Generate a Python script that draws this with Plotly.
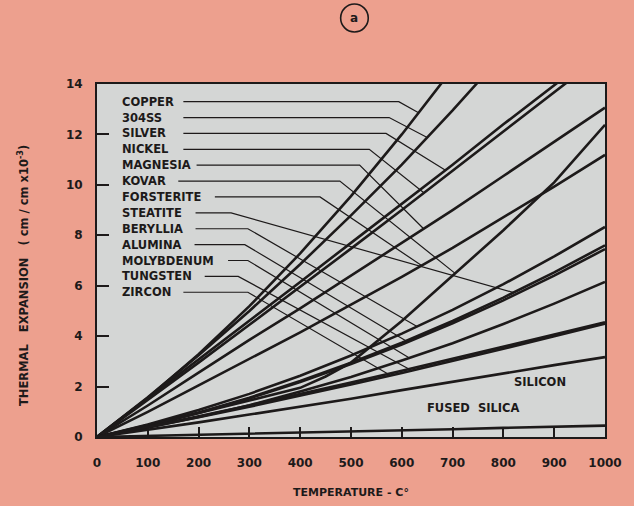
import plotly.graph_objects as go
import numpy as np

# ---------------- data ----------------
temps = [0, 100, 200, 300, 400, 500, 600, 700, 800, 900, 1000]
kovar_temps = [0, 100, 200, 300, 400, 450, 500, 600, 700, 800, 900, 1000]

copper     = [0, 1.55, 3.28, 5.19, 7.28, 9.55, 12.0, 14.6, 17.4, 20.3, 23.3]
ss304      = [0, 1.58, 3.24, 5.00, 6.85, 8.79, 10.8, 12.95, 15.2, 17.5, 19.9]
silver     = [0, 1.53, 3.06, 4.60, 6.15, 7.70, 9.25, 10.8, 12.4, 13.95, 15.5]
nickel     = [0, 1.47, 2.95, 4.45, 5.95, 7.47, 9.00, 10.54, 12.09, 13.65, 15.23]
magnesia   = [0, 1.25, 2.55, 3.85, 5.10, 6.40, 7.70, 9.00, 10.35, 11.7, 13.06]
kovar      = [0, 0.47, 0.95, 1.45, 1.95, 2.40, 2.95, 4.60, 6.40, 8.20, 10.1, 12.38]
forsterite = [0, 1.00, 2.05, 3.10, 4.15, 5.25, 6.35, 7.50, 8.70, 9.93, 11.19]
steatite   = [0, 0.45, 0.97, 1.56, 2.22, 2.95, 3.74, 4.60, 5.53, 6.53, 7.60]
beryllia   = [0, 0.50, 1.07, 1.71, 2.43, 3.23, 4.10, 5.04, 6.06, 7.16, 8.33]
alumina    = [0, 0.44, 0.95, 1.53, 2.18, 2.89, 3.67, 4.51, 5.42, 6.40, 7.45]
molybdenum = [0, 0.37, 0.79, 1.26, 1.80, 2.38, 3.03, 3.72, 4.48, 5.29, 6.15]
tungsten   = [0, 0.40, 0.82, 1.25, 1.70, 2.16, 2.63, 3.10, 3.58, 4.06, 4.55]
zircon     = [0, 0.38, 0.78, 1.20, 1.63, 2.08, 2.54, 3.01, 3.50, 4.00, 4.50]
silicon    = [0, 0.28, 0.58, 0.89, 1.20, 1.52, 1.86, 2.20, 2.53, 2.85, 3.17]
fused_silica = [0, 0.04, 0.09, 0.13, 0.18, 0.22, 0.27, 0.31, 0.36, 0.40, 0.45]

labels = ["COPPER", "304SS", "SILVER", "NICKEL", "MAGNESIA", "KOVAR", "FORSTERITE",
          "STEATITE", "BERYLLIA", "ALUMINA", "MOLYBDENUM", "TUNGSTEN", "ZIRCON"]
# leader lines: start (after text), bend, and end temperature on the curve
leader_start = [170, 170, 170, 170, 196, 160, 232, 194, 194, 192, 258, 212, 170]
leader_bend  = [594, 575, 569, 536, 517, 478, 439, 264, 297, 291, 297, 278, 297]
leader_end   = [633, 650, 686, 644, 643, 705, 639, 820, 630, 612, 615, 614, 578]

x_ticks = [0, 100, 200, 300, 400, 500, 600, 700, 800, 900, 1000]
y_ticks = [0, 2, 4, 6, 8, 10, 12, 14]

series = {
    "COPPER": (temps, copper), "304SS": (temps, ss304), "SILVER": (temps, silver),
    "NICKEL": (temps, nickel), "MAGNESIA": (temps, magnesia), "KOVAR": (kovar_temps, kovar),
    "FORSTERITE": (temps, forsterite), "STEATITE": (temps, steatite),
    "BERYLLIA": (temps, beryllia), "ALUMINA": (temps, alumina),
    "MOLYBDENUM": (temps, molybdenum), "TUNGSTEN": (temps, tungsten),
    "ZIRCON": (temps, zircon), "SILICON": (temps, silicon), "FUSED SILICA": (temps, fused_silica),
}

# ---------------- layout constants ----------------
W, H = 634, 506
L, R, T, B = 97, 22, 84, 69
PAPER = "#EDA08E"
PLOT = "#D4D6D5"
INK = "#1d1a1a"
FONT = "DejaVu Sans"

def px2paper(px, py):
    return (px - L) / (W - L - R), (H - B - py) / (H - T - B)

fig = go.Figure()

for name, (xs, ys) in series.items():
    fig.add_trace(go.Scatter(x=xs, y=ys, mode="lines", name=name,
                             line=dict(color=INK, width=2.6), hoverinfo="name",
                             showlegend=False))

# label texts and leader lines
label_top = 13.3
label_step = 0.63
for i, name in enumerate(labels):
    ly = label_top - i * label_step
    xs, ys = series[name]
    ey = float(np.interp(leader_end[i], xs, ys))
    fig.add_trace(go.Scatter(
        x=[leader_start[i], leader_bend[i], leader_end[i]], y=[ly, ly, ey],
        mode="lines", line=dict(color=INK, width=1.2), hoverinfo="skip", showlegend=False))
    fig.add_annotation(x=46, y=ly, text="<b>" + name + "</b>", showarrow=False,
                       xanchor="left", yanchor="middle",
                       font=dict(family=FONT, size=11.5, color=INK))

fig.add_annotation(x=872, y=2.18, text="<b>SILICON</b>", showarrow=False,
                   xanchor="center", yanchor="middle",
                   font=dict(family=FONT, size=11.5, color=INK))
fig.add_annotation(x=740, y=1.15, text="<b>FUSED  SILICA</b>", showarrow=False,
                   xanchor="center", yanchor="middle",
                   font=dict(family=FONT, size=11.5, color=INK))

# axis titles
ax, ay = px2paper(22, 276)
fig.add_annotation(x=ax, y=ay, xref="paper", yref="paper", textangle=-90,
                   xanchor="center", yanchor="middle",
                   text="<b>THERMAL   EXPANSION   ( cm / cm x10<sup>-3</sup>)</b>",
                   showarrow=False, font=dict(family=FONT, size=11.5, color=INK))
bx, by = px2paper(354, 492)
fig.add_annotation(x=bx, y=by, xref="paper", yref="paper",
                   xanchor="center", yanchor="middle",
                   text="<b>TEMPERATURE - C°</b>", showarrow=False,
                   font=dict(family=FONT, size=11, color=INK))

# circled "a"
cx0, cy0 = px2paper(344, 32)
cx1, cy1 = px2paper(372, 4)
fig.add_shape(type="circle", xref="paper", yref="paper", x0=cx0, y0=cy0, x1=cx1, y1=cy1,
              line=dict(color=INK, width=1.6))
tx, ty = px2paper(358, 18)
fig.add_annotation(x=tx, y=ty, xref="paper", yref="paper", text="<b>a</b>",
                   xanchor="center", yanchor="middle",
                   showarrow=False, font=dict(family=FONT, size=12, color=INK))

fig.update_layout(
    width=W, height=H, margin=dict(l=L, r=R, t=T, b=B),
    paper_bgcolor=PAPER, plot_bgcolor=PLOT,
    font=dict(family=FONT, color=INK),
    xaxis=dict(range=[0, 1000], tickvals=x_ticks, ticktext=[str(v) for v in x_ticks],
               ticks="inside", ticklen=10, tickwidth=1.5, tickcolor=INK,
               showgrid=False, zeroline=False, showline=True, mirror=True,
               linecolor=INK, linewidth=2,
               tickfont=dict(family=FONT, size=12, color=INK, weight="bold"),
               ticklabelstandoff=14),
    yaxis=dict(range=[0, 14], tickvals=y_ticks,
               ticks="inside", ticklen=12, tickwidth=1.5, tickcolor=INK,
               showgrid=False, zeroline=False, showline=True, mirror=True,
               linecolor=INK, linewidth=2,
               tickfont=dict(family=FONT, size=12, color=INK, weight="bold"),
               ticklabelstandoff=10),
)

fig.write_html(
    "out.html",
    config={"displayModeBar": False},
    post_script="document.body.style.margin='0';document.body.style.padding='0';"
                "document.body.style.background='#EDA08E';"
                "document.documentElement.style.background='#EDA08E';",
)
